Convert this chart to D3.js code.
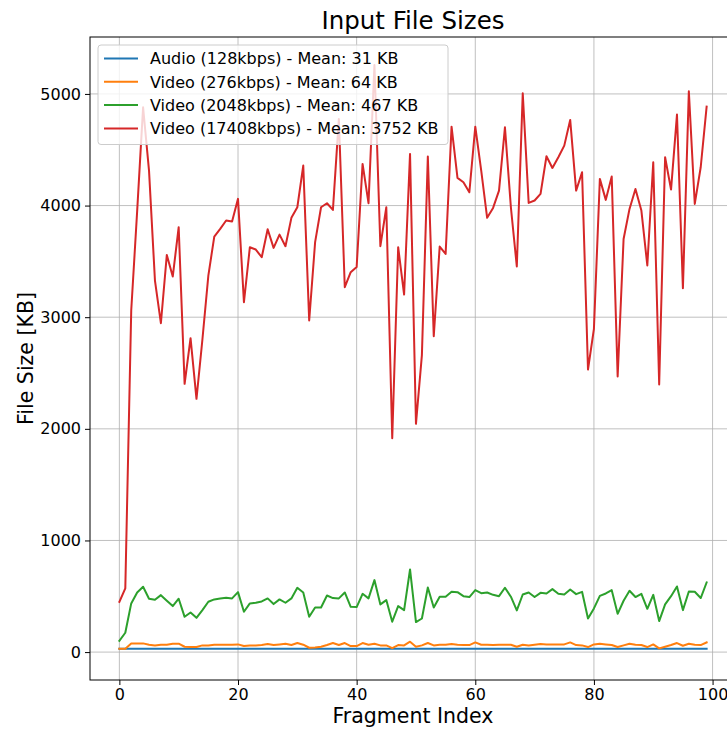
<!DOCTYPE html>
<html>
<head>
<meta charset="utf-8">
<script src="https://cdn.jsdelivr.net/npm/d3@7/dist/d3.min.js"></script>
<style>
  html, body { margin: 0; padding: 0; background: #fff; }
  svg { display: block; font-family: "DejaVu Sans", sans-serif; }
</style>
</head>
<body>
<svg id="chart" width="727" height="729"></svg>
<script>
// Per-fragment file sizes in KB, one array per stream
const audio128 = [
  31,31,31,31,31,31,31,31,31,31, 31,31,31,31,31,31,31,31,31,31,
  31,31,31,31,31,31,31,31,31,31, 31,31,31,31,31,31,31,31,31,31,
  31,31,31,31,31,31,31,31,31,31, 31,31,31,31,31,31,31,31,31,31,
  31,31,31,31,31,31,31,31,31,31, 31,31,31,31,31,31,31,31,31,31,
  31,31,31,31,31,31,31,31,31,31, 31,31,31,31,31,31,31,31,31,31
];
const video276 = [
  30,30,78,78,78,66,60,66,66,75, 75,48,45,45,60,60,66,66,66,66,
  69,54,60,60,63,72,63,69,75,63, 81,66,39,42,48,63,81,63,81,54,
  54,81,66,75,60,60,36,63,60,93, 48,60,81,60,66,66,72,66,63,63,
  87,66,66,63,66,66,66,48,66,60, 66,72,69,69,69,69,87,63,60,45,
  69,75,69,63,45,60,75,66,63,45, 69,33,48,63,81,57,75,66,63,87
];
const video2048 = [
  101,173,436,534,585,478,469,510,460,412, 478,316,355,307,376,451,472,481,487,481,
  537,361,436,442,454,481,430,472,442,481, 576,534,316,400,400,507,484,481,534,406,
  403,522,481,645,427,466,272,412,376,740, 269,301,579,400,496,496,540,537,501,493,
  555,528,534,513,501,576,496,373,516,534, 493,531,525,564,522,516,561,519,540,301,
  391,504,525,555,343,460,549,493,522,388, 513,278,427,501,588,376,543,540,484,624
];
const video17408 = [
  450,570,3060,3950,4880,4313,3328,2946,3558,3364, 3806,2403,2812,2269,2800,3373,3722,3791,3866,3857,
  4060,3134,3627,3606,3537,3788,3621,3740,3636,3890, 3985,4358,2970,3672,3985,4021,3961,4776,3269,3403,
  3450,4373,4021,5260,3636,3985,1916,3627,3203,4463, 2045,2660,4439,2830,3633,3567,4707,4248,4209,4119,
  4707,4313,3890,3979,4134,4701,3985,3454,5006,4024, 4045,4104,4442,4337,4433,4537,4767,4134,4299,2531,
  2896,4239,4051,4260,2469,3701,3970,4149,3955,3463, 4388,2397,4433,4143,4815,3260,5024,4015,4343,4887
];

const seriesNames = [
  "Audio (128kbps) - Mean: 31 KB",
  "Video (276kbps) - Mean: 64 KB",
  "Video (2048kbps) - Mean: 467 KB",
  "Video (17408kbps) - Mean: 3752 KB"
];
const seriesColors = ["#1f77b4", "#ff7f0e", "#2ca02c", "#d62728"];
const xTicks = [0, 20, 40, 60, 80, 100];
const yTicks = [0, 1000, 2000, 3000, 4000, 5000];

const allSeries = [audio128, video276, video2048, video17408];

const svg = d3.select("#chart");
const plotLeft = 90, plotRight = 736, plotTop = 37, plotBottom = 680;

const x = d3.scaleLinear().domain([-4.95, 103.95]).range([plotLeft, plotRight]);
const y = d3.scaleLinear().domain([-250, 5510]).range([plotBottom, plotTop]);

const plot = svg.append("g");

// Grid lines
plot.append("g").selectAll("line").data(xTicks).join("line")
  .attr("x1", d => x(d)).attr("x2", d => x(d))
  .attr("y1", plotTop).attr("y2", plotBottom)
  .attr("stroke", "#b0b0b0").attr("stroke-width", 0.8);
plot.append("g").selectAll("line").data(yTicks).join("line")
  .attr("x1", plotLeft).attr("x2", plotRight)
  .attr("y1", d => y(d)).attr("y2", d => y(d))
  .attr("stroke", "#b0b0b0").attr("stroke-width", 0.8);

// Series lines
const line = d3.line().x((d, i) => x(i)).y(d => y(d));
allSeries.forEach((s, k) => {
  plot.append("path")
    .datum(s)
    .attr("d", line)
    .attr("fill", "none")
    .attr("stroke", seriesColors[k])
    .attr("stroke-width", 2)
    .attr("stroke-linejoin", "round")
    .attr("stroke-linecap", "square");
});

// Axes frame
svg.append("rect")
  .attr("x", plotLeft).attr("y", plotTop)
  .attr("width", plotRight - plotLeft).attr("height", plotBottom - plotTop)
  .attr("fill", "none").attr("stroke", "#000").attr("stroke-width", 1);

const xAxis = d3.axisBottom(x).tickValues(xTicks).tickSize(5).tickPadding(4).tickFormat(d3.format("d"));
const yAxis = d3.axisLeft(y).tickValues(yTicks).tickSize(5).tickPadding(4).tickFormat(d3.format("d"));

const gx = svg.append("g").attr("transform", `translate(0,${plotBottom})`).call(xAxis);
const gy = svg.append("g").attr("transform", `translate(${plotLeft},0)`).call(yAxis);
[gx, gy].forEach(g => {
  g.select(".domain").remove();
  g.selectAll(".tick line").attr("stroke", "#000").attr("stroke-width", 1);
  g.selectAll(".tick text")
    .attr("fill", "#000")
    .style("font-family", "DejaVu Sans")
    .style("font-size", "16px");
});

// Title and axis labels
svg.append("text")
  .attr("x", (plotLeft + plotRight) / 2).attr("y", 29)
  .attr("text-anchor", "middle")
  .style("font-size", "24.5px")
  .text("Input File Sizes");

svg.append("text")
  .attr("x", (plotLeft + plotRight) / 2).attr("y", 723)
  .attr("text-anchor", "middle")
  .style("font-size", "20.5px")
  .text("Fragment Index");

svg.append("text")
  .attr("transform", `translate(33,${(plotTop + plotBottom) / 2}) rotate(-90)`)
  .attr("text-anchor", "middle")
  .style("font-size", "20.5px")
  .text("File Size [KB]");

// Legend
const legend = svg.append("g");
legend.append("rect")
  .attr("x", 98).attr("y", 45)
  .attr("width", 350).attr("height", 99.5)
  .attr("rx", 3).attr("ry", 3)
  .attr("fill", "#fff").attr("fill-opacity", 0.8)
  .attr("stroke", "#cccccc").attr("stroke-width", 1);

seriesNames.forEach((name, k) => {
  const cy = 58.5 + k * 23.3;
  legend.append("line")
    .attr("x1", 104).attr("x2", 138)
    .attr("y1", cy).attr("y2", cy)
    .attr("stroke", seriesColors[k]).attr("stroke-width", 2);
  legend.append("text")
    .attr("x", 150).attr("y", cy)
    .attr("dy", "0.36em")
    .style("font-size", "16px")
    .text(name);
});
</script>
</body>
</html>
